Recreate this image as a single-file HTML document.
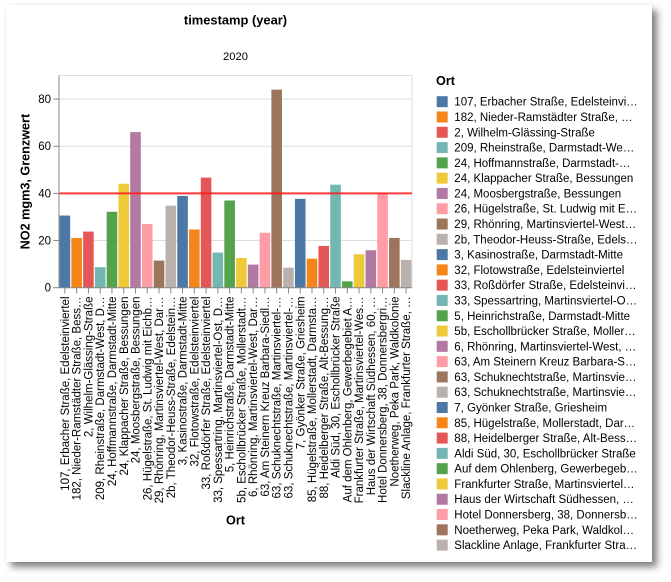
<!DOCTYPE html>
<html>
<head>
<meta charset="utf-8">
<style>
html,body{margin:0;padding:0;background:#fff;}
body{width:671px;height:582px;position:relative;overflow:hidden;}
.card{position:absolute;left:6px;top:5px;width:646px;height:557px;background:#fff;
box-shadow:0 0 1px rgba(0,0,0,0.12), 5px 5px 7px rgba(0,0,0,0.5);}
svg{position:absolute;left:0;top:0;}
text{font-family:"Liberation Sans",Arial,Helvetica,sans-serif;fill:#000;}
</style>
</head>
<body>
<div class="card"></div>
<svg width="671" height="582" viewBox="0 0 671 582" xmlns="http://www.w3.org/2000/svg">
  <!-- titles -->
  <text x="235.5" y="24.5" text-anchor="middle" font-size="12.9" font-weight="bold">timestamp (year)</text>
  <text x="235.5" y="60" text-anchor="middle" font-size="11.2">2020</text>

  <!-- grid -->
  <g stroke="#ddd" stroke-width="1">
    <line x1="59" y1="99.08" x2="412" y2="99.08"/>
    <line x1="59" y1="146.23" x2="412" y2="146.23"/>
    <line x1="59" y1="193.39" x2="412" y2="193.39"/>
    <line x1="59" y1="240.54" x2="412" y2="240.54"/>
    <line x1="59" y1="75.5" x2="412" y2="75.5"/>
    <line x1="412" y1="75.5" x2="412" y2="287.7"/>
  </g>

  <!-- bars -->
  <g>
    <rect x="59.59" y="215.55" width="10.59" height="72.15" fill="#4c78a8"/>
    <rect x="71.36" y="237.95" width="10.59" height="49.75" fill="#f58518"/>
    <rect x="83.13" y="231.58" width="10.59" height="56.12" fill="#e45756"/>
    <rect x="94.89" y="267.19" width="10.59" height="20.51" fill="#72b7b2"/>
    <rect x="106.66" y="211.78" width="10.59" height="75.92" fill="#54a24b"/>
    <rect x="118.43" y="183.72" width="10.59" height="103.98" fill="#eeca3b"/>
    <rect x="130.19" y="132.09" width="10.59" height="155.61" fill="#b279a2"/>
    <rect x="141.96" y="224.04" width="10.59" height="63.66" fill="#ff9da6"/>
    <rect x="153.73" y="260.59" width="10.59" height="27.11" fill="#9d755d"/>
    <rect x="165.49" y="205.65" width="10.59" height="82.05" fill="#bab0ac"/>
    <rect x="177.26" y="195.98" width="10.59" height="91.72" fill="#4c78a8"/>
    <rect x="189.03" y="229.46" width="10.59" height="58.24" fill="#f58518"/>
    <rect x="200.79" y="177.59" width="10.59" height="110.11" fill="#e45756"/>
    <rect x="212.56" y="252.57" width="10.59" height="35.13" fill="#72b7b2"/>
    <rect x="224.33" y="200.46" width="10.59" height="87.24" fill="#54a24b"/>
    <rect x="236.09" y="257.99" width="10.59" height="29.71" fill="#eeca3b"/>
    <rect x="247.86" y="264.59" width="10.59" height="23.11" fill="#b279a2"/>
    <rect x="259.63" y="232.76" width="10.59" height="54.94" fill="#ff9da6"/>
    <rect x="271.39" y="89.64" width="10.59" height="198.06" fill="#9d755d"/>
    <rect x="283.16" y="267.66" width="10.59" height="20.04" fill="#bab0ac"/>
    <rect x="294.93" y="198.81" width="10.59" height="88.89" fill="#4c78a8"/>
    <rect x="306.69" y="258.70" width="10.59" height="29.00" fill="#f58518"/>
    <rect x="318.46" y="245.97" width="10.59" height="41.73" fill="#e45756"/>
    <rect x="330.23" y="184.66" width="10.59" height="103.04" fill="#72b7b2"/>
    <rect x="341.99" y="281.33" width="10.59" height="6.37" fill="#54a24b"/>
    <rect x="353.76" y="254.22" width="10.59" height="33.48" fill="#eeca3b"/>
    <rect x="365.53" y="250.21" width="10.59" height="37.49" fill="#b279a2"/>
    <rect x="377.29" y="192.68" width="10.59" height="95.02" fill="#ff9da6"/>
    <rect x="389.06" y="237.95" width="10.59" height="49.75" fill="#9d755d"/>
    <rect x="400.83" y="259.88" width="10.59" height="27.82" fill="#bab0ac"/>
  </g>

  <!-- rule at 40 -->
  <line x1="59" y1="193.39" x2="412" y2="193.39" stroke="#ff1a1a" stroke-opacity="0.85" stroke-width="2"/>

  <!-- axes -->
  <g stroke="#888" stroke-width="1">
    <line x1="59" y1="75.5" x2="59" y2="287.7"/>
    <line x1="59" y1="287.7" x2="412" y2="287.7"/>
    <!-- y ticks -->
    <line x1="53.2" y1="287.7" x2="59" y2="287.7"/>
    <line x1="53.2" y1="240.54" x2="59" y2="240.54"/>
    <line x1="53.2" y1="193.39" x2="59" y2="193.39"/>
    <line x1="53.2" y1="146.23" x2="59" y2="146.23"/>
    <line x1="53.2" y1="99.08" x2="59" y2="99.08"/>
    <!-- x ticks -->
    <line x1="64.88" y1="287.7" x2="64.88" y2="293.5"/>
    <line x1="76.65" y1="287.7" x2="76.65" y2="293.5"/>
    <line x1="88.42" y1="287.7" x2="88.42" y2="293.5"/>
    <line x1="100.18" y1="287.7" x2="100.18" y2="293.5"/>
    <line x1="111.95" y1="287.7" x2="111.95" y2="293.5"/>
    <line x1="123.72" y1="287.7" x2="123.72" y2="293.5"/>
    <line x1="135.48" y1="287.7" x2="135.48" y2="293.5"/>
    <line x1="147.25" y1="287.7" x2="147.25" y2="293.5"/>
    <line x1="159.02" y1="287.7" x2="159.02" y2="293.5"/>
    <line x1="170.78" y1="287.7" x2="170.78" y2="293.5"/>
    <line x1="182.55" y1="287.7" x2="182.55" y2="293.5"/>
    <line x1="194.32" y1="287.7" x2="194.32" y2="293.5"/>
    <line x1="206.08" y1="287.7" x2="206.08" y2="293.5"/>
    <line x1="217.85" y1="287.7" x2="217.85" y2="293.5"/>
    <line x1="229.62" y1="287.7" x2="229.62" y2="293.5"/>
    <line x1="241.38" y1="287.7" x2="241.38" y2="293.5"/>
    <line x1="253.15" y1="287.7" x2="253.15" y2="293.5"/>
    <line x1="264.92" y1="287.7" x2="264.92" y2="293.5"/>
    <line x1="276.68" y1="287.7" x2="276.68" y2="293.5"/>
    <line x1="288.45" y1="287.7" x2="288.45" y2="293.5"/>
    <line x1="300.22" y1="287.7" x2="300.22" y2="293.5"/>
    <line x1="311.98" y1="287.7" x2="311.98" y2="293.5"/>
    <line x1="323.75" y1="287.7" x2="323.75" y2="293.5"/>
    <line x1="335.52" y1="287.7" x2="335.52" y2="293.5"/>
    <line x1="347.28" y1="287.7" x2="347.28" y2="293.5"/>
    <line x1="359.05" y1="287.7" x2="359.05" y2="293.5"/>
    <line x1="370.82" y1="287.7" x2="370.82" y2="293.5"/>
    <line x1="382.58" y1="287.7" x2="382.58" y2="293.5"/>
    <line x1="394.35" y1="287.7" x2="394.35" y2="293.5"/>
    <line x1="406.12" y1="287.7" x2="406.12" y2="293.5"/>
  </g>

  <!-- y labels -->
  <g font-size="11.5" text-anchor="end">
    <text x="51" y="291.7">0</text>
    <text x="51" y="244.5">20</text>
    <text x="51" y="197.4">40</text>
    <text x="51" y="150.2">60</text>
    <text x="51" y="103.1">80</text>
  </g>
  <text transform="translate(29.5,181.6) rotate(-90)" text-anchor="middle" font-size="12.65" font-weight="bold">NO2 mgm3, Grenzwert</text>

  <!-- x labels -->
  <g font-size="11.5" text-anchor="end">
    <text transform="translate(64.88,296.5) rotate(-90)" dy="0.35em">107, Erbacher Straße, Edelsteinviertel</text>
    <text transform="translate(76.65,296.5) rotate(-90)" dy="0.35em">182, Nieder-Ramstädter Straße, Bess…</text>
    <text transform="translate(88.42,296.5) rotate(-90)" dy="0.35em">2, Wilhelm-Glässing-Straße</text>
    <text transform="translate(100.18,296.5) rotate(-90)" dy="0.35em">209, Rheinstraße, Darmstadt-West, D…</text>
    <text transform="translate(111.95,296.5) rotate(-90)" dy="0.35em">24, Hoffmannstraße, Darmstadt-Mitte</text>
    <text transform="translate(123.72,296.5) rotate(-90)" dy="0.35em">24, Klappacher Straße, Bessungen</text>
    <text transform="translate(135.48,296.5) rotate(-90)" dy="0.35em">24, Moosbergstraße, Bessungen</text>
    <text transform="translate(147.25,296.5) rotate(-90)" dy="0.35em">26, Hügelstraße, St. Ludwig mit Eichb…</text>
    <text transform="translate(159.02,296.5) rotate(-90)" dy="0.35em">29, Rhönring, Martinsviertel-West, Dar…</text>
    <text transform="translate(170.78,296.5) rotate(-90)" dy="0.35em">2b, Theodor-Heuss-Straße, Edelstein…</text>
    <text transform="translate(182.55,296.5) rotate(-90)" dy="0.35em">3, Kasinostraße, Darmstadt-Mitte</text>
    <text transform="translate(194.32,296.5) rotate(-90)" dy="0.35em">32, Flotowstraße, Edelsteinviertel</text>
    <text transform="translate(206.08,296.5) rotate(-90)" dy="0.35em">33, Roßdörfer Straße, Edelsteinviertel</text>
    <text transform="translate(217.85,296.5) rotate(-90)" dy="0.35em">33, Spessartring, Martinsviertel-Ost, D…</text>
    <text transform="translate(229.62,296.5) rotate(-90)" dy="0.35em">5, Heinrichstraße, Darmstadt-Mitte</text>
    <text transform="translate(241.38,296.5) rotate(-90)" dy="0.35em">5b, Eschollbrücker Straße, Mollerstadt…</text>
    <text transform="translate(253.15,296.5) rotate(-90)" dy="0.35em">6, Rhönring, Martinsviertel-West, Dar…</text>
    <text transform="translate(264.92,296.5) rotate(-90)" dy="0.35em">63, Am Steinern Kreuz Barbara-Siedl…</text>
    <text transform="translate(276.68,296.5) rotate(-90)" dy="0.35em">63, Schuknechtstraße, Martinsviertel-…</text>
    <text transform="translate(288.45,296.5) rotate(-90)" dy="0.35em">63, Schuknechtstraße, Martinsviertel-…</text>
    <text transform="translate(300.22,296.5) rotate(-90)" dy="0.35em">7, Gyönker Straße, Griesheim</text>
    <text transform="translate(311.98,296.5) rotate(-90)" dy="0.35em">85, Hügelstraße, Mollerstadt, Darmsta…</text>
    <text transform="translate(323.75,296.5) rotate(-90)" dy="0.35em">88, Heidelberger Straße, Alt-Bessung…</text>
    <text transform="translate(335.52,296.5) rotate(-90)" dy="0.35em">Aldi Süd, 30, Eschollbrücker Straße</text>
    <text transform="translate(347.28,296.5) rotate(-90)" dy="0.35em">Auf dem Ohlenberg, Gewerbegebiet A…</text>
    <text transform="translate(359.05,296.5) rotate(-90)" dy="0.35em">Frankfurter Straße, Martinsviertel-Wes…</text>
    <text transform="translate(370.82,296.5) rotate(-90)" dy="0.35em">Haus der Wirtschaft Südhessen, 60, …</text>
    <text transform="translate(382.58,296.5) rotate(-90)" dy="0.35em">Hotel Donnersberg, 38, Donnersbergri…</text>
    <text transform="translate(394.35,296.5) rotate(-90)" dy="0.35em">Noetherweg, Peka Park, Waldkolonie</text>
    <text transform="translate(406.12,296.5) rotate(-90)" dy="0.35em">Slackline Anlage, Frankfurter Straße, …</text>
  </g>
  <text x="235.5" y="524.5" text-anchor="middle" font-size="12.65" font-weight="bold">Ort</text>

  <!-- legend -->
  <text x="436" y="85" font-size="12.65" font-weight="bold">Ort</text>
  <g>
    <rect x="436.7" y="96.2" width="11" height="11" fill="#4c78a8"/>
    <rect x="436.7" y="111.49" width="11" height="11" fill="#f58518"/>
    <rect x="436.7" y="126.78" width="11" height="11" fill="#e45756"/>
    <rect x="436.7" y="142.07" width="11" height="11" fill="#72b7b2"/>
    <rect x="436.7" y="157.36" width="11" height="11" fill="#54a24b"/>
    <rect x="436.7" y="172.65" width="11" height="11" fill="#eeca3b"/>
    <rect x="436.7" y="187.94" width="11" height="11" fill="#b279a2"/>
    <rect x="436.7" y="203.23" width="11" height="11" fill="#ff9da6"/>
    <rect x="436.7" y="218.52" width="11" height="11" fill="#9d755d"/>
    <rect x="436.7" y="233.81" width="11" height="11" fill="#bab0ac"/>
    <rect x="436.7" y="249.1" width="11" height="11" fill="#4c78a8"/>
    <rect x="436.7" y="264.39" width="11" height="11" fill="#f58518"/>
    <rect x="436.7" y="279.68" width="11" height="11" fill="#e45756"/>
    <rect x="436.7" y="294.97" width="11" height="11" fill="#72b7b2"/>
    <rect x="436.7" y="310.26" width="11" height="11" fill="#54a24b"/>
    <rect x="436.7" y="325.55" width="11" height="11" fill="#eeca3b"/>
    <rect x="436.7" y="340.84" width="11" height="11" fill="#b279a2"/>
    <rect x="436.7" y="356.13" width="11" height="11" fill="#ff9da6"/>
    <rect x="436.7" y="371.42" width="11" height="11" fill="#9d755d"/>
    <rect x="436.7" y="386.71" width="11" height="11" fill="#bab0ac"/>
    <rect x="436.7" y="402.0" width="11" height="11" fill="#4c78a8"/>
    <rect x="436.7" y="417.29" width="11" height="11" fill="#f58518"/>
    <rect x="436.7" y="432.58" width="11" height="11" fill="#e45756"/>
    <rect x="436.7" y="447.87" width="11" height="11" fill="#72b7b2"/>
    <rect x="436.7" y="463.16" width="11" height="11" fill="#54a24b"/>
    <rect x="436.7" y="478.45" width="11" height="11" fill="#eeca3b"/>
    <rect x="436.7" y="493.74" width="11" height="11" fill="#b279a2"/>
    <rect x="436.7" y="509.03" width="11" height="11" fill="#ff9da6"/>
    <rect x="436.7" y="524.32" width="11" height="11" fill="#9d755d"/>
    <rect x="436.7" y="539.61" width="11" height="11" fill="#bab0ac"/>
  </g>
  <g font-size="11.5">
    <text x="454.3" y="105.7">107, Erbacher Straße, Edelsteinvi…</text>
    <text x="454.3" y="120.99">182, Nieder-Ramstädter Straße, …</text>
    <text x="454.3" y="136.28">2, Wilhelm-Glässing-Straße</text>
    <text x="454.3" y="151.57">209, Rheinstraße, Darmstadt-We…</text>
    <text x="454.3" y="166.86">24, Hoffmannstraße, Darmstadt-…</text>
    <text x="454.3" y="182.15">24, Klappacher Straße, Bessungen</text>
    <text x="454.3" y="197.44">24, Moosbergstraße, Bessungen</text>
    <text x="454.3" y="212.73">26, Hügelstraße, St. Ludwig mit E…</text>
    <text x="454.3" y="228.02">29, Rhönring, Martinsviertel-West…</text>
    <text x="454.3" y="243.31">2b, Theodor-Heuss-Straße, Edels…</text>
    <text x="454.3" y="258.6">3, Kasinostraße, Darmstadt-Mitte</text>
    <text x="454.3" y="273.89">32, Flotowstraße, Edelsteinviertel</text>
    <text x="454.3" y="289.18">33, Roßdörfer Straße, Edelsteinvi…</text>
    <text x="454.3" y="304.47">33, Spessartring, Martinsviertel-O…</text>
    <text x="454.3" y="319.76">5, Heinrichstraße, Darmstadt-Mitte</text>
    <text x="454.3" y="335.05">5b, Eschollbrücker Straße, Moller…</text>
    <text x="454.3" y="350.34">6, Rhönring, Martinsviertel-West, …</text>
    <text x="454.3" y="365.63">63, Am Steinern Kreuz Barbara-S…</text>
    <text x="454.3" y="380.92">63, Schuknechtstraße, Martinsvie…</text>
    <text x="454.3" y="396.21">63, Schuknechtstraße, Martinsvie…</text>
    <text x="454.3" y="411.5">7, Gyönker Straße, Griesheim</text>
    <text x="454.3" y="426.79">85, Hügelstraße, Mollerstadt, Dar…</text>
    <text x="454.3" y="442.08">88, Heidelberger Straße, Alt-Bess…</text>
    <text x="454.3" y="457.37">Aldi Süd, 30, Eschollbrücker Straße</text>
    <text x="454.3" y="472.66">Auf dem Ohlenberg, Gewerbegeb…</text>
    <text x="454.3" y="487.95">Frankfurter Straße, Martinsviertel…</text>
    <text x="454.3" y="503.24">Haus der Wirtschaft Südhessen, …</text>
    <text x="454.3" y="518.53">Hotel Donnersberg, 38, Donnersb…</text>
    <text x="454.3" y="533.82">Noetherweg, Peka Park, Waldkol…</text>
    <text x="454.3" y="549.11">Slackline Anlage, Frankfurter Stra…</text>
  </g>
</svg>
</body>
</html>
